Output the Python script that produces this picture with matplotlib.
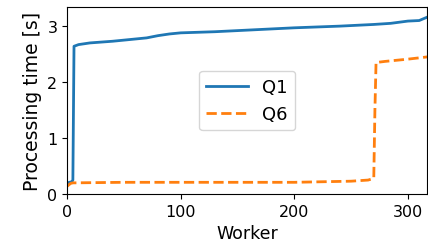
import matplotlib
matplotlib.use("Agg")
import matplotlib.pyplot as plt

# values (worker index, seconds)
q1_worker = [0, 4, 5, 6, 10, 20, 40, 60, 70, 80, 90, 100, 130, 160, 200, 240, 270, 285, 300, 310, 317]
q1_time = [0.20, 0.22, 0.25, 2.64, 2.67, 2.70, 2.73, 2.77, 2.79, 2.83, 2.86, 2.88, 2.90, 2.93, 2.97, 3.00, 3.03, 3.05, 3.09, 3.10, 3.16]

q6_worker = [0, 3, 5, 50, 100, 150, 200, 250, 265, 270, 271, 272, 280, 300, 317]
q6_time = [0.14, 0.19, 0.20, 0.21, 0.21, 0.21, 0.21, 0.23, 0.25, 0.28, 1.5, 2.35, 2.37, 2.41, 2.45]

plt.rcParams['font.family'] = 'DejaVu Sans'

fig = plt.figure(figsize=(4.28, 2.53), dpi=100)
ax = fig.add_subplot(111)
fig.subplots_adjust(left=0.157, right=0.998, top=0.968, bottom=0.229)

ax.plot(q1_worker, q1_time, color='#1f77b4', lw=2, label='Q1')
ax.plot(q6_worker, q6_time, color='#ff7f0e', lw=2, ls='--', label='Q6')

ax.set_xlim(0, 317)
ax.set_ylim(0, 3.34)
ax.set_xticks([0, 100, 200, 300])
ax.set_yticks([0, 1, 2, 3])
ax.tick_params(labelsize=11.5)
ax.set_xlabel('Worker', fontsize=12.5)
ax.set_ylabel('Processing time [s]', fontsize=13.5)
ax.legend(loc='center', fontsize=13, handlelength=2.3)

fig.savefig('out.png', dpi=100)
